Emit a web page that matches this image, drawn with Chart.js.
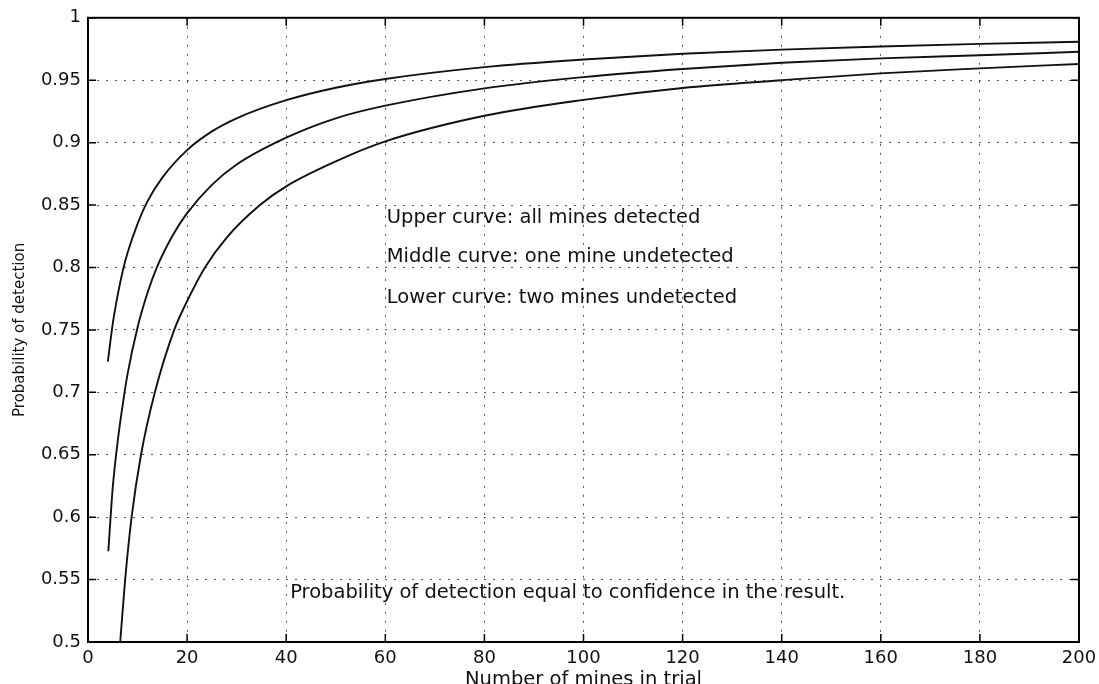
<!DOCTYPE html>
<html lang="en">
<head>
<meta charset="UTF-8" />
<title>Probability of detection</title>
<script src="https://cdn.jsdelivr.net/npm/chart.js"></script>
<style>
  html, body { margin: 0; padding: 0; background: #fff; }
</style>
</head>
<body>
<canvas id="chart" width="1099" height="684"></canvas>
<script>
  // values
  const upperX = [4, 5, 6, 7, 8, 10, 12, 15, 20, 25, 30, 40, 50, 60, 80, 100, 120, 140, 160, 180, 200];
  const upperY = [0.7245, 0.755, 0.778, 0.797, 0.812, 0.835, 0.853, 0.872, 0.894, 0.909, 0.9195, 0.934, 0.944, 0.951, 0.9605, 0.9666, 0.9712, 0.9745, 0.977, 0.9791, 0.9808];

  const middleX = [4.1, 5, 6, 7, 8, 10, 12, 14, 17, 20, 25, 30, 40, 50, 60, 80, 100, 120, 140, 160, 180, 200];
  const middleY = [0.5727, 0.624, 0.661, 0.69, 0.715, 0.752, 0.7795, 0.801, 0.825, 0.8435, 0.8662, 0.8825, 0.904, 0.9195, 0.9296, 0.9435, 0.9525, 0.959, 0.964, 0.9675, 0.970, 0.9728];

  const lowerX = [6.5, 7.5, 8.8, 10.7, 13.5, 17.4, 20, 23.6, 28, 34.7, 40, 50, 60, 80, 100, 120, 140, 160, 180, 200];
  const lowerY = [0.5, 0.55, 0.6, 0.65, 0.7, 0.75, 0.773, 0.8, 0.824, 0.85, 0.865, 0.885, 0.901, 0.9215, 0.9343, 0.9438, 0.950, 0.9555, 0.9595, 0.963];

  const noteText = [
    "Upper curve: all mines detected",
    "Middle curve: one mine undetected",
    "Lower curve: two mines undetected",
    "Probability of detection equal to confidence in the result."
  ];
  const noteX = [60.3, 60.3, 60.3, 40.8];
  const noteY = [0.8355, 0.8043, 0.7716, 0.5351];

  const FONT = '"DejaVu Sans", Arial, sans-serif';

  function pts(xs, ys) {
    return xs.map((v, i) => ({ x: v, y: ys[i] }));
  }

  function curve(label, xs, ys) {
    return {
      label: label,
      data: pts(xs, ys),
      borderColor: "#111",
      borderWidth: 1.9,
      pointRadius: 0,
      cubicInterpolationMode: "monotone",
      fill: false
    };
  }

  // box round the plot, MATLAB style inner ticks and the text notes
  const frame = {
    id: "frame",
    afterDatasetsDraw(chart) {
      const { ctx, chartArea: a, scales: { x, y } } = chart;
      ctx.save();
      ctx.strokeStyle = "#000";
      ctx.lineWidth = 1.5;
      ctx.beginPath();
      x.ticks.forEach(t => {
        const px = x.getPixelForValue(t.value);
        ctx.moveTo(px, a.bottom); ctx.lineTo(px, a.bottom - 8);
        ctx.moveTo(px, a.top); ctx.lineTo(px, a.top + 8);
      });
      y.ticks.forEach(t => {
        const py = y.getPixelForValue(t.value);
        ctx.moveTo(a.left, py); ctx.lineTo(a.left + 8, py);
        ctx.moveTo(a.right, py); ctx.lineTo(a.right - 8, py);
      });
      ctx.stroke();
      ctx.lineWidth = 2;
      ctx.strokeRect(a.left, a.top, a.width, a.height);

      ctx.font = "19.5px " + FONT;
      ctx.fillStyle = "#111";
      ctx.textBaseline = "alphabetic";
      ctx.textAlign = "left";
      noteText.forEach((s, i) => {
        ctx.fillText(s, x.getPixelForValue(noteX[i]), y.getPixelForValue(noteY[i]));
      });
      ctx.restore();
    }
  };

  new Chart(document.getElementById("chart"), {
    type: "line",
    data: {
      datasets: [
        curve("Upper curve", upperX, upperY),
        curve("Middle curve", middleX, middleY),
        curve("Lower curve", lowerX, lowerY)
      ]
    },
    options: {
      responsive: false,
      animation: false,
      layout: { padding: { left: 0, top: 16, right: 20, bottom: 0 } },
      plugins: {
        legend: { display: false },
        tooltip: { enabled: false }
      },
      scales: {
        x: {
          type: "linear",
          min: 0,
          max: 200,
          afterFit: s => { s.height = 42; s.paddingLeft = 0; s.paddingRight = 0; },
          ticks: {
            stepSize: 20,
            padding: 6,
            color: "#111",
            font: { family: FONT, size: 18 }
          },
          grid: { color: "#555", lineWidth: 1, drawTicks: false },
          border: { display: false, dash: [2, 7] },
          title: {
            display: true,
            text: "Number of mines in trial",
            color: "#111",
            font: { family: FONT, size: 19.5, lineHeight: 0.45 },
            padding: { top: 0, bottom: 0 }
          }
        },
        y: {
          min: 0.5,
          max: 1,
          afterFit: s => { s.width = 88; },
          ticks: {
            stepSize: 0.05,
            padding: 7,
            color: "#111",
            font: { family: FONT, size: 18 },
            callback: v => String(+v.toFixed(2))
          },
          grid: { color: "#555", lineWidth: 1, drawTicks: false },
          border: { display: false, dash: [2, 7] },
          title: {
            display: true,
            text: "Probability of detection",
            color: "#111",
            font: { family: FONT, size: 15, lineHeight: 1.2 },
            padding: { top: 11, bottom: 0 }
          }
        }
      }
    },
    plugins: [frame]
  });
</script>
</body>
</html>
